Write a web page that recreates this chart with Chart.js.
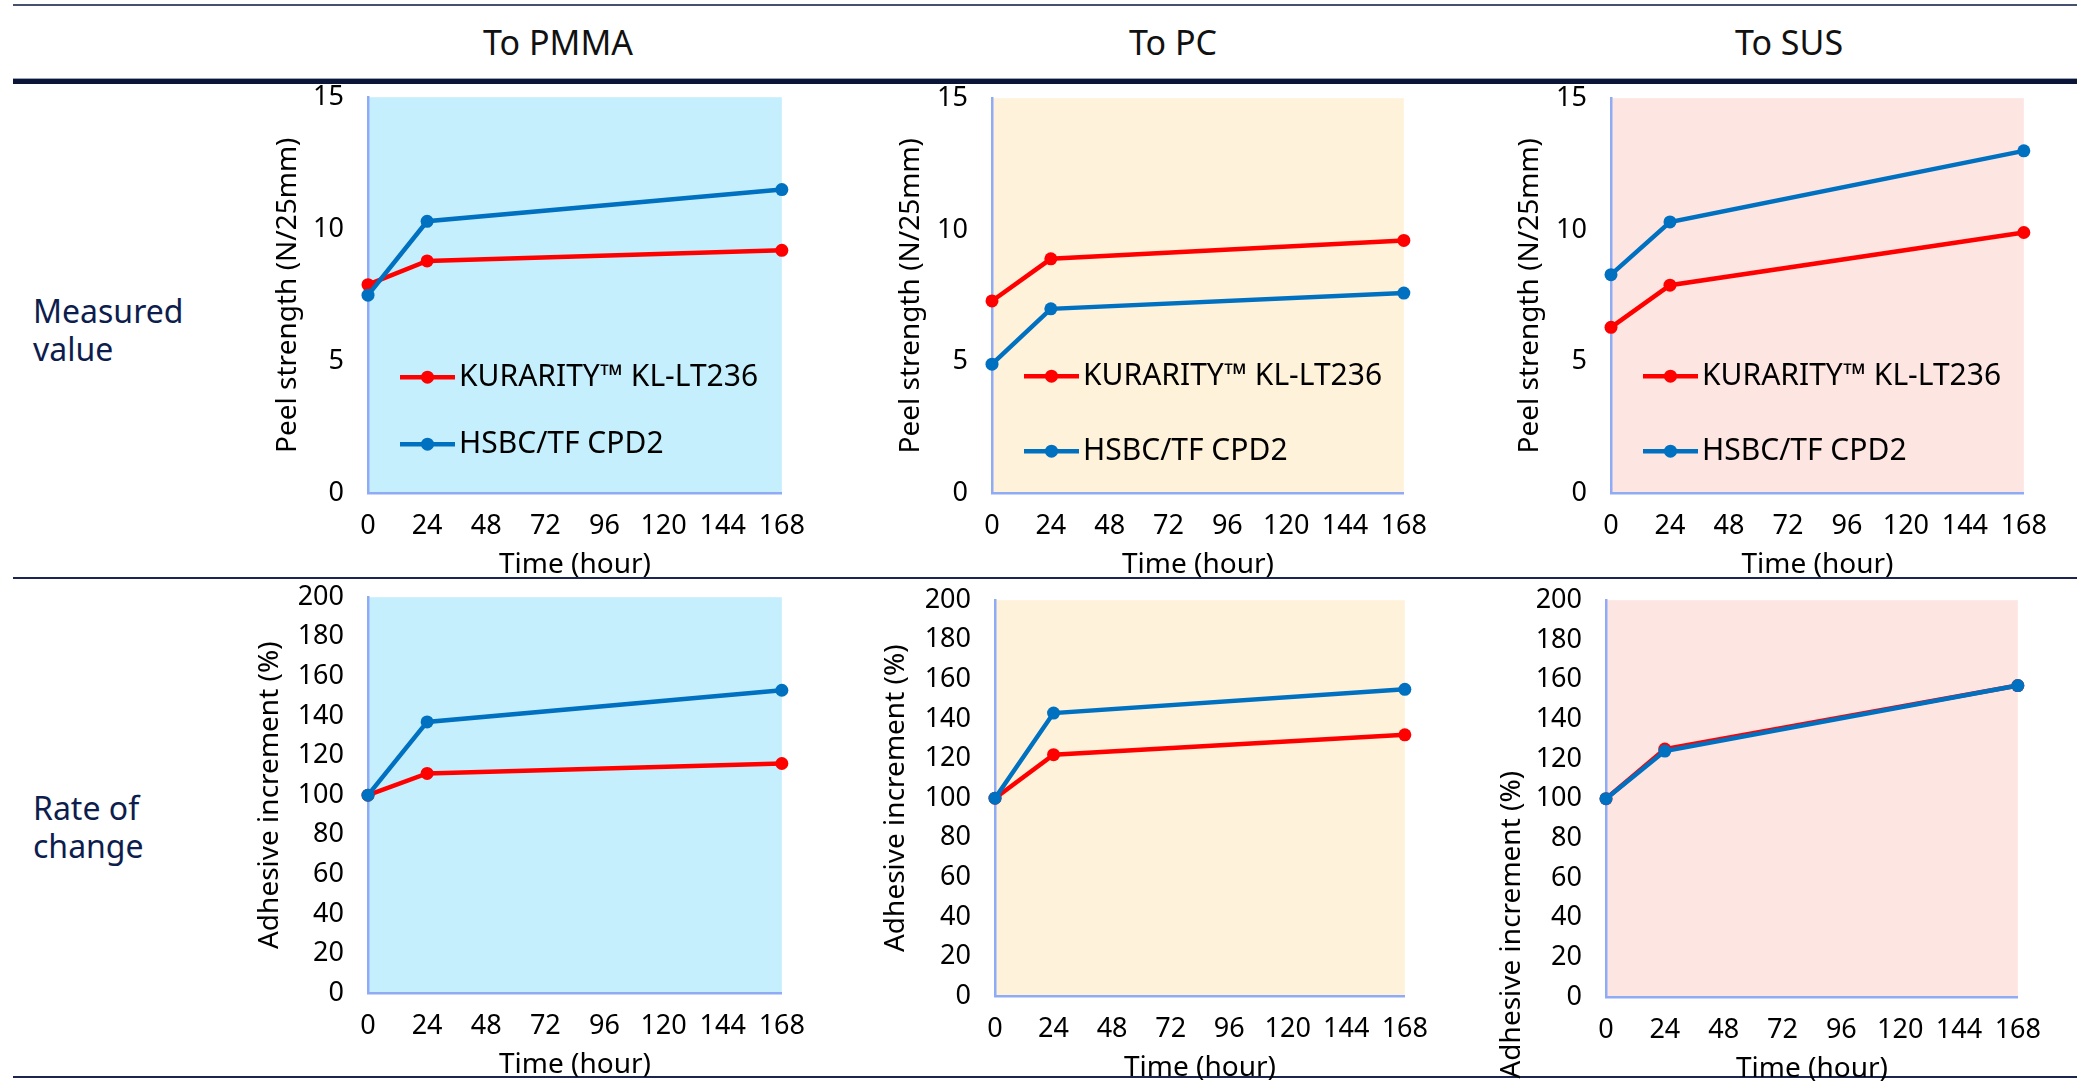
<!DOCTYPE html>
<html>
<head>
<meta charset="utf-8">
<title>Peel strength over time</title>
<script src="https://cdn.jsdelivr.net/npm/chart.js@4.4.1/dist/chart.umd.min.js"></script>
<style>
    html, body { margin: 0; padding: 0; background: #ffffff; }
    body { position: relative; width: 2077px; height: 1081px; overflow: hidden; font-family: "Noto Sans", sans-serif; }
    .rule { position: absolute; left: 13px; right: 0; }
    .rule-top { top: 4px; height: 2px; background: #46516f; }
    .rule-soft { top: 78px; height: 1px; background: #9aa3b8; }
    .rule-thick { top: 79px; height: 5px; background: #0b1538; }
    .rule-mid { top: 577px; height: 2px; background: #1b2550; }
    .rule-bottom { top: 1076px; height: 2px; background: #1b2550; }
    .col-head { position: absolute; top: 22px; width: 300px; text-align: center; font-size: 34px; line-height: 40px; color: #111111; }
    .row-head { position: absolute; left: 33px; font-size: 32px; line-height: 38px; color: #0d1d4d; }
    canvas { position: absolute; }
</style>
</head>
<body>
<div class="rule rule-top"></div>
<div class="rule rule-soft"></div>
<div class="rule rule-thick"></div>
<div class="rule rule-mid"></div>
<div class="rule rule-bottom"></div>

<div class="col-head" style="left:408px">To PMMA</div>
<div class="col-head" style="left:1023px">To PC</div>
<div class="col-head" style="left:1639px">To SUS</div>

<div class="row-head" style="top:292px">Measured<br>value</div>
<div class="row-head" style="top:789px">Rate of<br>change</div>

<script>
// DATA
const hours = [0, 24, 168];
const seriesNames = ["KURARITY\u2122 KL-LT236", "HSBC/TF CPD2"];
const hourTicks = [0, 24, 48, 72, 96, 120, 144, 168];
const peelTicks = [0, 5, 10, 15];
const rateTicks = [0, 20, 40, 60, 80, 100, 120, 140, 160, 180, 200];

const pmmaKurarity = [7.9, 8.8, 9.2];
const pmmaHsbc = [7.5, 10.3, 11.5];
const pcKurarity = [7.3, 8.9, 9.6];
const pcHsbc = [4.9, 7.0, 7.6];
const susKurarity = [6.3, 7.9, 9.9];
const susHsbc = [8.3, 10.3, 13.0];

const pmmaKurarityRate = [100, 111, 116];
const pmmaHsbcRate = [100, 137, 153];
const pcKurarityRate = [100, 122, 132];
const pcHsbcRate = [100, 143, 155];
const susKurarityRate = [100, 125, 157];
const susHsbcRate = [100, 124, 157];
// DATA

const AXIS_W = 130;
const AXIS_H = 100;
const PAD_T = 20;
const PAD_R = 40;
const RED = "#ff0000";
const BLUE = "#0070c0";
const AXIS_LINE = "#8fabf5";

const PEEL_TITLE = "Peel strength (N/25mm)";
const RATE_TITLE = "Adhesive increment (%)";

// PANELS (plot area boxes on the page)
const panels = [
    { left: 368, top: 97, width: 414, height: 396, bg: "#c6effd", kurarity: pmmaKurarity, hsbc: pmmaHsbc, yTicks: peelTicks, yTitle: PEEL_TITLE, titleGap: 80, legend: [116, 49] },
    { left: 992, top: 98, width: 412, height: 395, bg: "#fef2da", kurarity: pcKurarity, hsbc: pcHsbc, yTicks: peelTicks, yTitle: PEEL_TITLE, titleGap: 81, legend: [117, 42] },
    { left: 1611, top: 98, width: 413, height: 395, bg: "#fde5e2", kurarity: susKurarity, hsbc: susHsbc, yTicks: peelTicks, yTitle: PEEL_TITLE, titleGap: 81, legend: [117, 42] },
    { left: 368, top: 597, width: 414, height: 396, bg: "#c6effd", kurarity: pmmaKurarityRate, hsbc: pmmaHsbcRate, yTicks: rateTicks, yTitle: RATE_TITLE, titleGap: 98 },
    { left: 995, top: 600, width: 410, height: 396, bg: "#fef2da", kurarity: pcKurarityRate, hsbc: pcHsbcRate, yTicks: rateTicks, yTitle: RATE_TITLE, titleGap: 99 },
    { left: 1606, top: 600, width: 412, height: 397, bg: "#fde5e2", kurarity: susKurarityRate, hsbc: susHsbcRate, yTicks: rateTicks, yTitle: RATE_TITLE, titleGap: 94, titleShift: 126 },
];
// PANELS

Chart.defaults.font.family = "'Noto Sans', sans-serif";
Chart.defaults.color = "#000000";

// PLOT BACKGROUND
const plotBackground = {
    id: "plotBackground",
    beforeDraw: function (chart, args, opts) {
        const a = chart.chartArea;
        chart.ctx.save();
        chart.ctx.fillStyle = opts.color;
        chart.ctx.fillRect(a.left, a.top, a.right - a.left, a.bottom - a.top);
        chart.ctx.restore();
    },
};
// PLOT BACKGROUND

// LEGEND INSIDE PLOT
const insideLegend = {
    id: "insideLegend",
    afterDatasetsDraw: function (chart, args, opts) {
        if (!opts.rows) return;
        const ctx = chart.ctx;
        const a = chart.chartArea;
        chart.data.datasets.forEach(function (ds, i) {
            const y = a.bottom - opts.rows[i];
            ctx.save();
            ctx.strokeStyle = ds.borderColor;
            ctx.lineWidth = ds.borderWidth;
            ctx.beginPath();
            ctx.moveTo(a.left + 32, y);
            ctx.lineTo(a.left + 87, y);
            ctx.stroke();
            ctx.fillStyle = ds.borderColor;
            ctx.beginPath();
            ctx.arc(a.left + 59.5, y, ds.pointRadius, 0, Math.PI * 2);
            ctx.fill();
            ctx.fillStyle = "#000000";
            ctx.font = "30px 'Noto Sans'";
            ctx.textBaseline = "middle";
            ctx.fillText(ds.label, a.left + 91, y);
            ctx.restore();
        });
    },
};
// LEGEND INSIDE PLOT

// SHIFTED Y TITLE
const shiftedTitle = {
    id: "shiftedTitle",
    afterDraw: function (chart, args, opts) {
        if (!opts.text) return;
        const ctx = chart.ctx;
        const a = chart.chartArea;
        ctx.save();
        ctx.translate(a.left - opts.gap, (a.top + a.bottom) / 2 + opts.shift);
        ctx.rotate(-Math.PI / 2);
        ctx.font = "28px 'Noto Sans'";
        ctx.fillStyle = "#000000";
        ctx.textAlign = "center";
        ctx.textBaseline = "middle";
        ctx.fillText(opts.text, 0, 0);
        ctx.restore();
    },
};
// SHIFTED Y TITLE

function series(label, values, color, order) {
    return {
        label: label,
        data: hours.map(function (h, i) { return { x: h, y: values[i] }; }),
        borderColor: color,
        backgroundColor: color,
        pointBackgroundColor: color,
        borderWidth: 4.5,
        pointRadius: 6.5,
        pointHoverRadius: 6.5,
        pointBorderWidth: 0,
        tension: 0,
        clip: false,
        order: order,
    };
}

// DRAW ONE PANEL
function drawPanel(p) {
    const canvas = document.createElement("canvas");
    canvas.width = AXIS_W + p.width + PAD_R;
    canvas.height = PAD_T + p.height + AXIS_H;
    canvas.style.left = (p.left - AXIS_W) + "px";
    canvas.style.top = (p.top - PAD_T) + "px";
    document.body.appendChild(canvas);

    const shifted = p.titleShift !== undefined;
    const yTicks = p.yTicks;

    const chart = new Chart(canvas.getContext("2d"), {
        type: "line",
        data: {
            datasets: [
                series(seriesNames[0], p.kurarity, RED, 1),
                series(seriesNames[1], p.hsbc, BLUE, 0),
            ],
        },
        options: {
            responsive: false,
            maintainAspectRatio: false,
            animation: false,
            events: [],
            layout: { padding: { top: PAD_T, right: PAD_R, bottom: 0, left: 0 } },
            plugins: {
                legend: { display: false },
                tooltip: { enabled: false },
                plotBackground: { color: p.bg },
                insideLegend: { rows: p.legend },
                shiftedTitle: shifted ? { text: p.yTitle, gap: p.titleGap, shift: p.titleShift } : {},
            },
            scales: {
                x: {
                    type: "linear",
                    min: hourTicks[0],
                    max: hourTicks[hourTicks.length - 1],
                    afterBuildTicks: function (s) { s.ticks = hourTicks.map(function (v) { return { value: v }; }); },
                    afterFit: function (s) { s.height = AXIS_H; },
                    grid: { display: false, drawTicks: false },
                    border: { display: true, color: AXIS_LINE, width: 2.5 },
                    ticks: { padding: 17, maxRotation: 0, autoSkip: false, font: { size: 27 } },
                    title: { display: true, text: "Time (hour)", font: { size: 28 }, padding: { top: 0, bottom: 11 } },
                },
                y: {
                    min: yTicks[0],
                    max: yTicks[yTicks.length - 1],
                    afterBuildTicks: function (s) { s.ticks = yTicks.map(function (v) { return { value: v }; }); },
                    afterFit: function (s) { s.width = AXIS_W; },
                    grid: { display: false, drawTicks: false },
                    border: { display: true, color: AXIS_LINE, width: 2.5 },
                    ticks: { padding: 24, autoSkip: false, font: { size: 27 } },
                    title: { display: !shifted, text: p.yTitle, font: { size: 28 }, padding: { top: AXIS_W - p.titleGap - 16.8, bottom: 0 } },
                },
            },
        },
        plugins: [plotBackground, insideLegend, shiftedTitle],
    });

    // the layout adds its own top margin, so grow the canvas and line the plot box up with the page
    const areaTop = chart.chartArea.top;
    chart.resize(canvas.width, areaTop + p.height + AXIS_H);
    canvas.style.top = (p.top - chart.chartArea.top) + "px";
    canvas.style.left = (p.left - chart.chartArea.left) + "px";
}
// DRAW ONE PANEL

panels.forEach(drawPanel);
</script>
</body>
</html>
